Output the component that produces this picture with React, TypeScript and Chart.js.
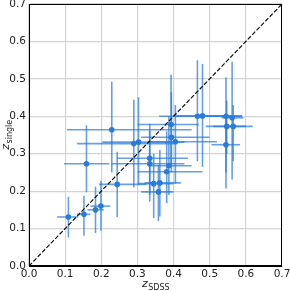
import { useEffect, useRef } from 'react';
import { Chart, registerables } from 'chart.js';

Chart.register(...registerables);

// Redshift values per object
const zSdss = [0.109, 0.152, 0.159, 0.184, 0.199, 0.244, 0.229, 0.290, 0.303, 0.334, 0.334, 0.345, 0.362, 0.358, 0.381, 0.387, 0.393, 0.394, 0.405, 0.466, 0.480, 0.545, 0.562, 0.547, 0.565, 0.545];
const zSingle = [0.131, 0.138, 0.273, 0.150, 0.160, 0.218, 0.364, 0.327, 0.331, 0.288, 0.273, 0.220, 0.222, 0.198, 0.252, 0.268, 0.378, 0.344, 0.332, 0.400, 0.401, 0.400, 0.396, 0.373, 0.373, 0.324];
// Error-bar bounds
const zSdssLo = [0.078, 0.133, 0.097, 0.162, 0.170, 0.194, 0.105, 0.133, 0.203, 0.244, 0.228, 0.300, 0.320, 0.310, 0.300, 0.330, 0.300, 0.310, 0.330, 0.360, 0.400, 0.490, 0.533, 0.489, 0.510, 0.505];
const zSdssHi = [0.136, 0.170, 0.222, 0.207, 0.225, 0.325, 0.450, 0.400, 0.430, 0.440, 0.430, 0.400, 0.420, 0.400, 0.480, 0.450, 0.470, 0.500, 0.520, 0.570, 0.590, 0.588, 0.593, 0.600, 0.619, 0.584];
const zSingleLo = [0.076, 0.081, 0.197, 0.088, 0.094, 0.131, 0.250, 0.210, 0.220, 0.190, 0.172, 0.128, 0.132, 0.120, 0.168, 0.190, 0.270, 0.250, 0.220, 0.280, 0.265, 0.207, 0.231, 0.300, 0.280, 0.250];
const zSingleHi = [0.185, 0.188, 0.376, 0.212, 0.227, 0.305, 0.493, 0.444, 0.451, 0.380, 0.360, 0.300, 0.310, 0.270, 0.360, 0.400, 0.511, 0.464, 0.430, 0.550, 0.540, 0.504, 0.546, 0.442, 0.430, 0.400];

const axisMin = 0;
const axisMax = 0.7;
const tickStep = 0.1;
const diagonal = [0, 0.7];

const POINT_COLOR = '#2b7bd8';
const BAR_COLOR = 'rgba(43,123,216,0.72)';

export default function App() {
  const ref = useRef<HTMLCanvasElement>(null);

  useEffect(() => {
    document.body.style.margin = '0';
    const canvas = ref.current;
    if (!canvas) return;

    const errorBars = {
      id: 'errorBars',
      beforeDatasetsDraw(chart: any) {
        const { ctx, scales, chartArea } = chart;
        const xs = scales.x;
        const ys = scales.y;
        ctx.save();
        ctx.beginPath();
        ctx.rect(chartArea.left, chartArea.top, chartArea.right - chartArea.left, chartArea.bottom - chartArea.top);
        ctx.clip();
        ctx.strokeStyle = BAR_COLOR;
        ctx.lineWidth = 1.6;
        for (let i = 0; i < zSdss.length; i++) {
          const px = xs.getPixelForValue(zSdss[i]);
          const py = ys.getPixelForValue(zSingle[i]);
          ctx.beginPath();
          ctx.moveTo(xs.getPixelForValue(zSdssLo[i]), py);
          ctx.lineTo(xs.getPixelForValue(zSdssHi[i]), py);
          ctx.stroke();
          ctx.beginPath();
          ctx.moveTo(px, ys.getPixelForValue(zSingleLo[i]));
          ctx.lineTo(px, ys.getPixelForValue(zSingleHi[i]));
          ctx.stroke();
        }
        ctx.restore();
      },
    };

    const frameAndTitles = {
      id: 'frameAndTitles',
      afterDraw(chart: any) {
        const { ctx, chartArea } = chart;
        ctx.save();
        ctx.strokeStyle = '#000';
        ctx.lineWidth = 1;
        ctx.strokeRect(chartArea.left + 0.5, chartArea.top + 0.5, chartArea.right - chartArea.left - 1, chartArea.bottom - chartArea.top - 1);

        ctx.fillStyle = '#222';
        ctx.textBaseline = 'alphabetic';
        ctx.textAlign = 'left';
        const mainFont = 'italic 11px "DejaVu Sans"';
        const subFont = '8px "DejaVu Sans"';

        // x title
        ctx.font = mainFont;
        const zw = ctx.measureText('z').width;
        ctx.font = subFont;
        const sw = ctx.measureText('SDSS').width;
        const cx = (chartArea.left + chartArea.right) / 2;
        const bx = cx - (zw + sw) / 2;
        const by = 287;
        ctx.font = mainFont;
        ctx.fillText('z', bx, by);
        ctx.font = subFont;
        ctx.fillText('SDSS', bx + zw + 0.5, by + 2.5);

        // y title
        ctx.font = mainFont;
        const zw2 = ctx.measureText('z').width;
        ctx.font = subFont;
        const sw2 = ctx.measureText('single').width;
        const cy = (chartArea.top + chartArea.bottom) / 2;
        ctx.translate(9, cy);
        ctx.rotate(-Math.PI / 2);
        const bx2 = -(zw2 + sw2) / 2;
        ctx.font = mainFont;
        ctx.fillText('z', bx2, 0);
        ctx.font = subFont;
        ctx.fillText('single', bx2 + zw2 + 0.5, 2.5);
        ctx.restore();
      },
    };

    const tickFont = { family: '"DejaVu Sans"', size: 10.5 };

    const chart = new Chart(canvas, {
      type: 'scatter',
      data: {
        datasets: [
          {
            type: 'line',
            data: diagonal.map((v) => ({ x: v, y: v })),
            borderColor: '#111',
            borderWidth: 1.2,
            borderDash: [4.4, 1.9],
            pointRadius: 0,
            fill: false,
            order: 0,
          } as any,
          {
            type: 'scatter',
            data: zSdss.map((x, i) => ({ x, y: zSingle[i] })),
            backgroundColor: POINT_COLOR,
            borderColor: POINT_COLOR,
            pointRadius: 2.8,
            borderWidth: 0,
            order: 1,
          },
        ],
      },
      options: {
        animation: false,
        responsive: false,
        layout: { padding: { top: 3, right: 8, left: 0, bottom: 0 } },
        plugins: { legend: { display: false }, tooltip: { enabled: false } },
        scales: {
          x: {
            type: 'linear',
            min: axisMin,
            max: axisMax,
            afterFit: (s: any) => { s.height = 25; s.paddingLeft = 0; s.paddingRight = 0; },
            ticks: {
              stepSize: tickStep,
              autoSkip: false,
              maxRotation: 0,
              padding: 2,
              color: '#222',
              font: tickFont,
              callback: (v: any) => Number(v).toFixed(1),
            },
            grid: { color: '#d4d4d4', lineWidth: 1.2, drawTicks: false },
            border: { display: true, color: '#000', width: 1 },
          },
          y: {
            type: 'linear',
            min: axisMin,
            max: axisMax,
            afterFit: (s: any) => { s.width = 29; s.paddingTop = 0; s.paddingBottom = 0; },
            ticks: {
              stepSize: tickStep,
              autoSkip: false,
              padding: 3,
              color: '#222',
              font: tickFont,
              callback: (v: any) => Number(v).toFixed(1),
            },
            grid: { color: '#d4d4d4', lineWidth: 1.2, drawTicks: false },
            border: { display: true, color: '#000', width: 1 },
          },
        },
      },
      plugins: [errorBars, frameAndTitles],
    });

    return () => chart.destroy();
  }, []);

  return (
    <div style={{ width: 290, height: 291 }}>
      <canvas ref={ref} width={290} height={291} style={{ display: 'block' }} />
    </div>
  );
}
